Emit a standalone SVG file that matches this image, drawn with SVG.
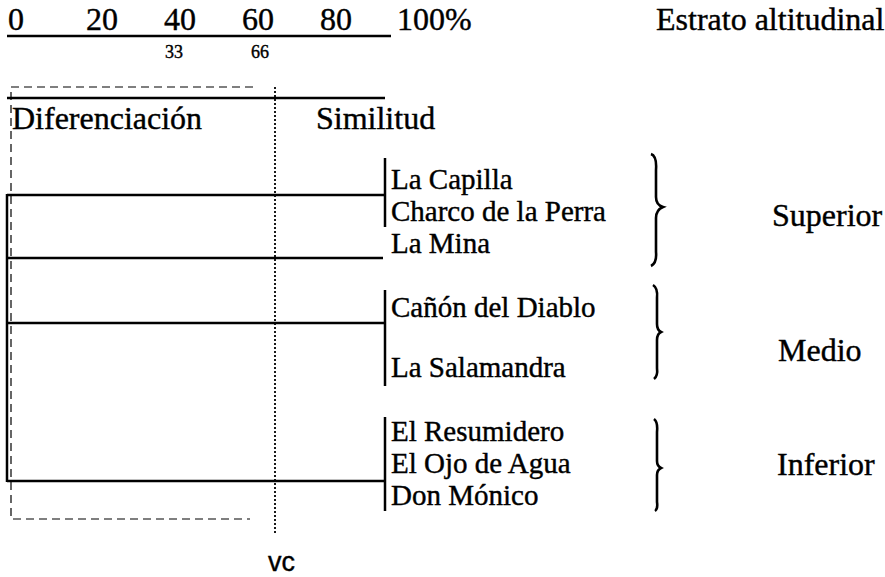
<svg xmlns="http://www.w3.org/2000/svg" width="885" height="577" viewBox="0 0 885 577">
<style>
text{font-family:"Liberation Serif","Times New Roman",serif;fill:#000;stroke:#000;stroke-width:0.4}
.t{font-size:32px}
.n{font-size:29px}
.s{font-size:18px}
.ln{stroke:#000;stroke-width:2.5;fill:none}
.br{stroke:#000;stroke-width:2.6;fill:none}
.dash{stroke:#000;stroke-width:1.2;fill:none;stroke-dasharray:8 5}
.dot{stroke:#000;stroke-width:1.8;fill:none;stroke-dasharray:2 2}
</style>
<rect width="885" height="577" fill="#fff"/>
<g id="scale">
<text class="t" x="8" y="30">0</text>
<text class="t" x="86" y="30">20</text>
<text class="t" x="164" y="30">40</text>
<text class="t" x="242" y="30">60</text>
<text class="t" x="320" y="30">80</text>
<text class="t" x="397" y="30">100%</text>
<line class="ln" x1="7" y1="36" x2="391" y2="36"/>
<text class="s" x="165" y="58">33</text>
<text class="s" x="251" y="58">66</text>
</g>
<g id="title"><text class="t" x="656" y="30">Estrato altitudinal</text></g>
<g id="frame">
<polyline class="dash" points="253,87 11,87 11,519 250,519"/>
<line class="dot" x1="275" y1="87" x2="275" y2="534"/>
<line class="ln" x1="7" y1="98" x2="385" y2="98"/>
<text class="t" x="12" y="129">Diferenciación</text>
<text class="t" x="316" y="129">Similitud</text>
</g>
<g id="connectors">
<line class="ln" x1="7" y1="195" x2="385" y2="195"/>
<line class="ln" x1="7" y1="258" x2="383" y2="258"/>
<line class="ln" x1="7" y1="323" x2="385" y2="323"/>
<line class="ln" x1="7" y1="481" x2="385" y2="481"/>
<line class="ln" x1="7" y1="194" x2="7" y2="482"/>
<line class="ln" x1="385" y1="158" x2="385" y2="227"/>
<line class="ln" x1="385" y1="290" x2="385" y2="386"/>
<line class="ln" x1="385" y1="417" x2="385" y2="511"/>
</g>
<g id="superior">
<text class="n" x="391" y="189">La Capilla</text>
<text class="n" x="391" y="221">Charco de la Perra</text>
<text class="n" x="391" y="253">La Mina</text>
<path class="br" d="M651,154 Q657,156 656,170 L656,197 Q656,205 663,207 Q656,210 656,218 L656,252 Q657,263 651,266"/>
<text class="t" x="772" y="226">Superior</text>
</g>
<g id="medio">
<text class="n" x="391" y="317">Cañón del Diablo</text>
<text class="n" x="391" y="377">La Salamandra</text>
<path class="br" d="M653,285 Q658,288 657,298 L657,324 Q657,330 661,332 Q657,334 657,340 L657,368 Q658,376 654,379"/>
<text class="t" x="778" y="361">Medio</text>
</g>
<g id="inferior">
<text class="n" x="391" y="441">El Resumidero</text>
<text class="n" x="391" y="473">El Ojo de Agua</text>
<text class="n" x="391" y="505">Don  Mónico</text>
<path class="br" d="M654,419 Q658,422 657,432 L657,461 Q657,466 661,468 Q657,470 657,475 L657,502 Q658,509 655,511"/>
<text class="t" x="777" y="475">Inferior</text>
</g>
<g id="vc"><text x="268" y="571" style="font-family:'Liberation Sans',Arial,sans-serif;font-size:27px">vc</text></g>
</svg>
